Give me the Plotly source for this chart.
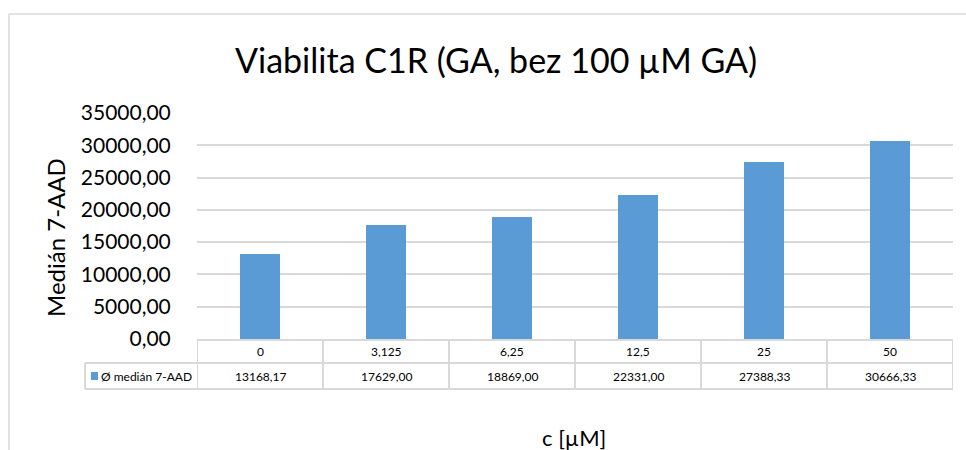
import plotly.graph_objects as go

# Concentrations (µM) and mean median 7-AAD fluorescence
concentrations = ["0", "3,125", "6,25", "12,5", "25", "50"]
median_7aad = [13168.17, 17629.00, 18869.00, 22331.00, 27388.33, 30666.33]
series_name = "Ø medián 7-AAD"
y_ticks = [0, 5000, 10000, 15000, 20000, 25000, 30000, 35000]

W, H = 966, 450
L, R, T, B = 197, 13, 113, 111
PW, PH = W - L - R, H - T - B

FONT = "Lato, Calibri, Carlito, sans-serif"
BAR = "#5B9BD5"
GRID = "#D9D9D9"


def px(x):
    return (x - L) / PW


def py(y):
    return (H - B - y) / PH


def fmt(v):
    return f"{v:.2f}".replace(".", ",")


idx = list(range(len(concentrations)))

fig = go.Figure(
    go.Bar(
        x=idx,
        y=median_7aad,
        marker=dict(color=BAR, line=dict(width=0)),
        width=0.317,
        name=series_name,
        showlegend=False,
    )
)

shapes = []
# chart-area frame (left and top edges)
shapes.append(dict(type="line", xref="paper", yref="paper", x0=px(9), x1=px(9), y0=py(14), y1=py(460),
                   line=dict(color=GRID, width=1.5)))
shapes.append(dict(type="line", xref="paper", yref="paper", x0=px(9), x1=px(990), y0=py(14), y1=py(14),
                   line=dict(color=GRID, width=1.5)))

# data table grid
row_top, row_mid, row_bot = 340, 363, 389
shapes.append(dict(type="line", xref="paper", yref="paper", x0=px(L), x1=px(L + PW), y0=py(row_top), y1=py(row_top),
                   line=dict(color=GRID, width=2)))
for yy in (row_mid, row_bot):
    shapes.append(dict(type="line", xref="paper", yref="paper", x0=px(85), x1=px(L + PW), y0=py(yy), y1=py(yy),
                       line=dict(color=GRID, width=2)))
for k in range(len(concentrations) + 1):
    shapes.append(dict(type="line", xref="x", yref="paper", x0=k - 0.5, x1=k - 0.5, y0=py(row_top), y1=py(row_bot),
                       line=dict(color=GRID, width=2)))
shapes.append(dict(type="line", xref="paper", yref="paper", x0=px(85), x1=px(85), y0=py(row_mid), y1=py(row_bot),
                   line=dict(color=GRID, width=2)))
# legend key inside the table
shapes.append(dict(type="rect", xref="paper", yref="paper", x0=px(91), x1=px(98), y0=py(380), y1=py(372),
                   fillcolor=BAR, line=dict(width=0)))


def label(x, y, text, size, xref="paper", xanchor="center", angle=0):
    return dict(x=x, y=y, xref=xref, yref="paper", text=text, showarrow=False,
                xanchor=xanchor, yanchor="middle", textangle=angle,
                font=dict(family=FONT, size=size, color="#000"))


annotations = []
for i, (c, v) in enumerate(zip(concentrations, median_7aad)):
    annotations.append(label(i, py((row_top + row_mid) / 2), c, 12, xref="x"))
    annotations.append(label(i, py((row_mid + row_bot) / 2), fmt(v), 12, xref="x"))
annotations.append(label(px(99), py((row_mid + row_bot) / 2), series_name, 12, xanchor="left"))

# titles
annotations.append(label(px(496), py(60), "Viabilita C1R (GA, bez 100 µM GA)", 34))
annotations.append(label(px(55), py(238), "Medián 7-AAD", 24, angle=-90))
annotations.append(label(px(574), py(437), "c [µM]", 22))

fig.update_layout(
    width=W,
    height=H,
    margin=dict(l=L, r=R, t=T, b=B, pad=0),
    paper_bgcolor="white",
    plot_bgcolor="white",
    shapes=shapes,
    annotations=annotations,
    xaxis=dict(range=[-0.5, len(concentrations) - 0.5], showticklabels=False, showgrid=False, zeroline=False,
               showline=False, fixedrange=True),
    yaxis=dict(range=[0, 35000], tickvals=y_ticks, ticktext=[fmt(t) for t in y_ticks],
               showgrid=True, gridcolor=GRID, gridwidth=2, zeroline=False, showline=False,
               ticks="outside", ticklen=21, tickcolor="rgba(0,0,0,0)",
               tickfont=dict(family=FONT, size=21, color="#000"), fixedrange=True),
    bargap=0,
)

fig.write_html("out.html")
